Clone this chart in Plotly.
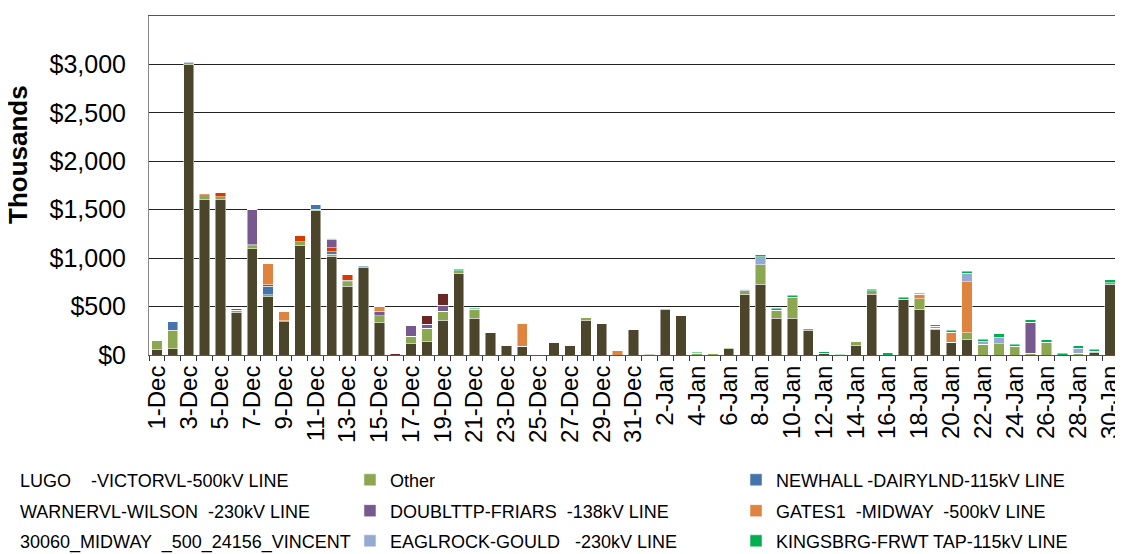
import pandas as pd
import plotly.graph_objects as go

days = [f"{d.day}-{d:%b}" for d in pd.date_range("2013-12-01", periods=61)]

lugo = [60, 65, 2996, 1604, 1601, 441, 1095, 599, 344, 1133, 1487, 1019, 709, 899, 331, 0,
        117, 141, 358, 844, 382, 231, 96, 90, 0, 124, 93, 361, 327, 0, 265,
        10, 465, 413, 0, 0, 62, 627, 733, 382, 382, 255, 20, 3, 103, 627, 0, 575,
        472, 265, 131, 165, 0, 0, 0, 0, 0, 0, 0, 28, 733]
other = [85, 193, 20, 49, 34, 20, 31, 24, 0, 38, 18, 21, 45, 10, 75, 0,
         76, 134, 96, 24, 90, 0, 7, 0, 0, 0, 10, 28, 0, 0, 0,
         5, 10, 0, 20, 20, 14, 34, 197, 79, 214, 14, 0, 0, 35, 38, 0, 0,
         110, 10, 0, 66, 110, 117, 90, 17, 131, 0, 20, 10, 14]
newhall = [0, 93, 0, 0, 0, 0, 0, 86, 10, 0, 44, 24, 17, 14, 0, 0,
           0, 0, 0, 0, 0, 0, 0, 0, 0, 0, 0, 0, 0, 0, 0,
           0, 0, 0, 0, 0, 0, 0, 0, 0, 0, 0, 0, 0, 0, 0, 0, 0,
           0, 0, 0, 0, 0, 0, 0, 0, 0, 0, 0, 0, 0]
warner = [0, 0, 0, 14, 42, 24, 14, 17, 0, 65, 0, 41, 59, 0, 0, 0,
          0, 0, 0, 0, 0, 0, 0, 0, 0, 0, 0, 0, 0, 0, 0,
          0, 0, 0, 0, 0, 0, 0, 0, 0, 0, 0, 0, 0, 0, 0, 0, 0,
          0, 0, 0, 0, 0, 0, 0, 0, 0, 0, 0, 0, 0]
doubl = [0, 0, 0, 0, 0, 0, 365, 0, 0, 0, 0, 83, 0, 0, 48, 0,
         113, 42, 59, 0, 0, 0, 0, 0, 0, 0, 0, 0, 0, 0, 0,
         0, 0, 0, 0, 0, 0, 0, 0, 0, 0, 0, 0, 0, 0, 0, 0, 0,
         0, 0, 0, 0, 0, 0, 0, 320, 0, 0, 0, 0, 0]
gates = [0, 0, 0, 0, 0, 0, 0, 214, 93, 0, 0, 0, 0, 0, 45, 0,
         0, 0, 0, 0, 0, 0, 0, 234, 0, 0, 0, 0, 0, 45, 0,
         0, 0, 0, 0, 0, 0, 0, 0, 0, 0, 0, 0, 0, 0, 0, 0, 0,
         45, 21, 103, 523, 0, 0, 0, 0, 0, 0, 0, 0, 0]
midway = [0, 0, 0, 0, 0, 0, 0, 0, 0, 0, 0, 0, 0, 0, 0, 15,
          0, 86, 124, 0, 0, 0, 0, 0, 0, 0, 0, 0, 0, 0, 0,
          0, 0, 0, 0, 0, 0, 0, 0, 0, 0, 0, 0, 0, 0, 0, 0, 0,
          0, 0, 0, 0, 0, 0, 0, 0, 0, 0, 0, 0, 0]
eagl = [0, 0, 10, 0, 0, 0, 0, 0, 0, 0, 0, 17, 0, 0, 0, 0,
        0, 0, 0, 0, 0, 0, 0, 0, 0, 0, 0, 0, 0, 0, 0,
        0, 0, 0, 0, 0, 0, 17, 86, 0, 0, 0, 0, 0, 0, 0, 0, 0,
        0, 0, 0, 90, 31, 65, 0, 0, 0, 0, 52, 0, 0]
kings = [0, 0, 0, 0, 0, 0, 0, 0, 0, 0, 0, 0, 0, 0, 0, 0,
         0, 0, 0, 17, 10, 0, 0, 0, 0, 0, 0, 0, 0, 0, 0,
         0, 0, 0, 8, 0, 0, 0, 20, 21, 20, 0, 14, 5, 0, 13, 24, 21,
         13, 14, 20, 20, 21, 35, 20, 28, 24, 17, 21, 20, 28]

series = [
    ("LUGO    -VICTORVL-500kV LINE", lugo, "#4B452C"),
    ("Other", other, "#8CA752"),
    ("NEWHALL -DAIRYLND-115kV LINE", newhall, "#4474AB"),
    ("WARNERVL-WILSON  -230kV LINE", warner, "#D83B01"),
    ("DOUBLTTP-FRIARS  -138kV LINE", doubl, "#77588F"),
    ("GATES1  -MIDWAY  -500kV LINE", gates, "#DF843F"),
    ("30060_MIDWAY  _500_24156_VINCENT", midway, "#6B2626"),
    ("EAGLROCK-GOULD   -230kV LINE", eagl, "#95AAD2"),
    ("KINGSBRG-FRWT TAP-115kV LINE", kings, "#00B050"),
]

# legend grid: 3 columns x 3 rows, each entry its own legend (paper coords)
col_x = [-0.1744, 0.2074, 0.6058]
row_y = [-0.369, -0.460, -0.549]

fig = go.Figure()
legends = {}
for i, (name, vals, col) in enumerate(series):
    lid = "legend" if i == 0 else f"legend{i + 1}"
    fig.add_trace(go.Bar(
        x=days, y=vals, name=name,
        legend=lid, showlegend=True,
        marker=dict(color=col, line=dict(color="rgba(255,255,255,0.6)", width=0.8))
    ))
    legends[lid] = dict(
        x=col_x[i % 3], xanchor="left",
        y=row_y[i // 3], yanchor="middle",
        itemwidth=30,
        font=dict(size=18),
        bgcolor="rgba(0,0,0,0)",
    )

ticktext = [d if i % 2 == 0 else "" for i, d in enumerate(days)]

# the page body adds an 8px offset, so margins are shifted up/left by 8px
fig.update_layout(
    showlegend=True,
    barmode="stack",
    bargap=0.35,
    width=1123, height=554,
    margin=dict(l=141, r=13, t=8, b=207, autoexpand=False),
    plot_bgcolor="white",
    paper_bgcolor="white",
    font=dict(family="Liberation Sans, Arial", color="black"),
    xaxis=dict(
        type="category",
        tickmode="array", tickvals=days, ticktext=ticktext,
        tickson="boundaries",
        tickangle=-90,
        tickfont=dict(size=24),
        ticks="outside", ticklen=5, tickcolor="#333",
        showline=True, linecolor="#555", mirror=True,
        showgrid=False,
        automargin=False,
    ),
    yaxis=dict(
        range=[0, 3500], dtick=500,
        tickprefix="$", tickformat=",",
        tickfont=dict(size=25),
        ticklabelstandoff=17,
        showgrid=True, gridcolor="#222", gridwidth=1,
        showline=True, linecolor="#888", mirror=True,
        ticks="", zeroline=False,
        automargin=False,
    ),
    annotations=[dict(
        text="<b>Thousands</b>", textangle=-90,
        xref="paper", yref="paper", x=0, y=0.59,
        xanchor="center", yanchor="middle", xshift=-131,
        showarrow=False, font=dict(size=26),
    )],
    **legends,
)

fig.write_html("out.html")
